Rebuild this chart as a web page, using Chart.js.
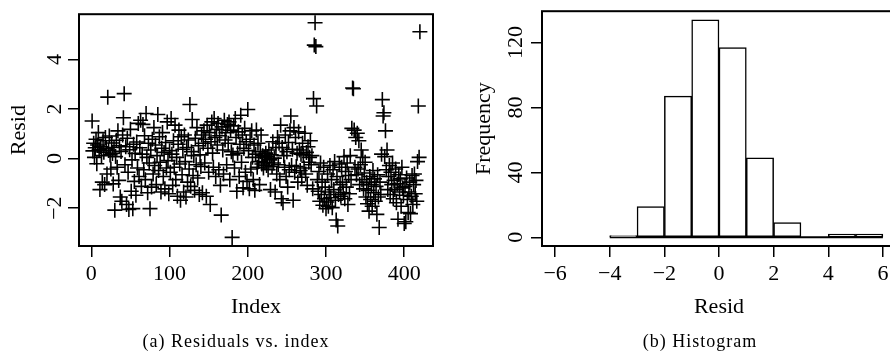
<!DOCTYPE html>
<html>
<head>
<meta charset="utf-8">
<script src="https://cdn.jsdelivr.net/npm/chart.js@4.4.1/dist/chart.umd.min.js"></script>
<style>
  html, body { margin: 0; padding: 0; background: #fff; }
  body { width: 890px; height: 360px; overflow: hidden; position: relative; }
  #residChart { position: absolute; left: 0; top: 0; }
  #histChart { position: absolute; left: 445px; top: 0; }
  .caption { position: absolute; top: 331px; font-family: 'Liberation Serif', serif; font-size: 18px;
             letter-spacing: 1px; transform: translateX(-50%); white-space: nowrap; color: #000; }
</style>
</head>
<body>
<canvas id="residChart" width="445" height="360"></canvas>
<canvas id="histChart" width="460" height="360"></canvas>
<div class="caption" style="left:236px">(a) Residuals vs. index</div>
<div class="caption" style="left:700px">(b) Histogram</div>
<script>
// residuals, index 1..420
const resid = [
  1.52, 0.31, 0.62, 0.05, 0.44, 0.78, -0.21, 0.55, 1.05, 0.36, -1.25, 0.48, 0.12, -0.95, 0.72, 0.26, -1.05, 0.85, 0.41, -0.62,
  2.48, 0.33, 0.91, 0.15, -0.42, 0.63, 0.21, -1.02, 0.45, -2.08, 0.08, 0.74, -0.35, 1.12, -0.88, 0.52, -1.55, 0.29, -1.72, 0.95,
  1.65, 2.62, -0.25, 0.48, -1.85, 0.82, -0.55, -2.05, 0.36, 1.18, -1.32, -0.05, -2.02, 0.58, -0.92, 0.21, -1.48, 0.67, -0.38, 1.42,
  -0.72, 0.44, 1.55, -1.12, 0.18, 1.38, -0.45, 0.92, -0.85, 1.82, 0.05, -1.38, 0.62, -0.18, -2.02, 0.35, -1.15, 0.78, -0.62, 1.25,
  -0.28, 0.55, -1.05, 0.12, 1.78, -0.48, 0.88, -0.15, -1.35, 0.42, 1.05, -0.72, 0.25, -1.22, 0.65, -0.38, 1.48, -0.08, -1.42, 0.32,
  -0.55, 1.62, 0.18, -1.08, 0.72, -0.35, 1.35, -0.85, 0.05, -1.52, 0.58, 1.15, -0.22, -1.68, 0.88, -0.65, 0.38, -1.35, 0.95, -0.12,
  -1.55, 0.45, -0.95, 0.75, -0.42, 2.18, -1.12, 0.28, 1.58, -0.68, 0.12, -1.28, 0.82, -0.25, 1.25, -0.78, 0.52, -1.45, 0.15, -0.32,
  0.95, -1.38, 0.62, 1.12, -0.18, 0.78, -1.52, 1.35, 0.42, -0.55, 1.05, -1.85, 0.68, 1.48, 0.22, -0.35, 1.62, 0.85, -0.72, 1.18,
  0.55, 1.42, -0.45, 0.92, -1.08, -2.28, 1.28, 0.35, -0.62, 1.55, 0.75, 1.05, -0.25, 1.38, 0.62, 1.48, -0.85, 1.15, 0.28, -3.18,
  0.15, 1.32, -0.38, 1.62, 0.85, -1.32, 0.22, 1.08, -0.72, 0.58, 1.75, -0.15, 0.95, -1.18, 0.42, 1.22, -0.55, 0.68, -0.92, 1.98,
  0.32, -1.22, 0.78, -0.42, 1.12, 0.05, -0.85, 0.55, -1.28, 0.18, 1.15, -0.35, 0.62, -0.12, -1.05, 0.28, 0.95, -0.22, 0.12, -0.38,
  0.05, -0.15, 0.22, -0.28, 0.08, -0.45, 0.35, -0.05, -1.25, 0.15, -0.32, 0.68, -0.18, 0.02, -1.35, 0.45, -0.62, 0.85, -0.25, 0.62,
  -0.85, 1.35, -1.62, 0.45, -1.78, 0.12, -0.35, 0.95, -0.72, 0.28, -1.15, 0.65, -0.45, 1.12, 1.72, -0.28, 0.38, -1.68, 1.25, -0.55,
  0.85, -0.32, 0.22, -0.95, 1.08, 0.35, -0.48, 0.18, -0.75, 0.62, 0.15, -0.38, 1.02, -0.62, 0.25, -1.08, 0.48, -0.15, 0.05, 0.72,
  -0.25, 0.12, -1.22, 2.42, 4.58, 5.48, 4.52, 2.12, -0.85, -1.32, -0.52, -1.72, -0.18, -1.45, -0.95, -1.88, -0.35, -1.62, -1.15, -2.02,
  -1.75, -0.62, -1.92, -1.35, -0.28, -1.58, -0.85, -1.98, -0.45, -1.25, -0.12, -1.68, -2.48, -0.72, -2.72, -1.45, -0.22, -1.05, -1.52, -0.35,
  -0.95, -1.38, 0.08, -1.62, -0.52, -1.15, -0.18, -1.85, -0.68, -1.42, 0.12, -0.85, 1.22, 2.85, 2.82, 1.15, -0.35, 0.85, -0.65, 1.02,
  -0.42, 0.72, -1.05, -0.25, 0.35, -0.85, 0.05, -1.22, -0.58, -0.15, -1.55, -0.95, -1.82, -1.28, -2.12, -0.72, -1.65, -1.05, -1.92, -0.48,
  -1.38, -0.82, -1.72, -1.12, -2.25, -0.65, -1.55, -2.78, -0.95, -1.45, 0.18, 2.38, 1.72, 1.85, 0.08, 1.12, -0.45, 0.35, -1.25, -0.72,
  -0.28, -1.45, -0.55, -1.05, -0.18, -1.62, -0.88, -1.25, -0.42, -1.78, -1.02, -2.45, -0.65, -1.35, -0.82, -1.92, -0.35, -1.18, -1.48, -2.62,
  -1.12, -2.55, -0.78, -1.65, -2.18, -1.35, -0.95, -2.22, -1.52, -0.68, -1.85, -1.05, -0.62, -1.42, -0.88, -1.72, -0.12, 2.12, 0.05, 5.12
];

// histogram of the residuals, panel (b)
const binEdges = [-4, -3, -2, -1, 0, 1, 2, 3, 4, 5, 6];
const binCounts = [1, 19, 87, 134, 117, 49, 9, 0, 2, 2];

const xTicksA = [0, 100, 200, 300, 400];
const yTicksA = [-2, 0, 2, 4];
const xTicksB = [-6, -4, -2, 0, 2, 4, 6];
const yTicksB = [0, 40, 80, 120];

Chart.defaults.font.family = "'Liberation Serif', serif";
Chart.defaults.color = '#000';

const serif = { family: "'Liberation Serif', serif", size: 22 };
const minus = (v) => (v < 0 ? '\u2212' + Math.abs(v) : String(v));

// R style 4% range extension
function rRange(lo, hi) {
  const pad = (hi - lo) * 0.04;
  return [lo - pad, hi + pad];
}

// box round the plot region, like R's box()
const boxPlugin = {
  id: 'rbox',
  afterDatasetsDraw(chart) {
    const a = chart.chartArea;
    const c = chart.ctx;
    c.save();
    c.strokeStyle = '#000';
    c.lineWidth = 2;
    c.strokeRect(a.left, a.top, a.right - a.left, a.bottom - a.top);
    c.restore();
  }
};

function axisGrid() {
  return { display: true, drawOnChartArea: false, drawTicks: true, tickLength: 11, color: '#000', lineWidth: 1.5 };
}

const idx = resid.map((r, i) => i + 1);
const xLimA = rRange(Math.min(...idx), Math.max(...idx));
const yLimA = rRange(Math.min(...resid), Math.max(...resid));

new Chart(document.getElementById('residChart'), {
  type: 'scatter',
  data: {
    datasets: [{
      data: resid.map((r, i) => ({ x: idx[i], y: r })),
      pointStyle: 'cross',
      pointRadius: 7.5,
      borderWidth: 1.6,
      borderColor: '#000',
      backgroundColor: '#000'
    }]
  },
  options: {
    responsive: false,
    animation: false,
    devicePixelRatio: 1,
    layout: { padding: { left: 0, top: 10, right: 12, bottom: 0 } },
    plugins: { legend: { display: false }, tooltip: { enabled: false } },
    scales: {
      x: {
        type: 'linear', min: xLimA[0], max: xLimA[1],
        afterBuildTicks: (s) => { s.ticks = xTicksA.map(v => ({ value: v })); },
        afterFit: (s) => { s.height = 114; },
        grid: axisGrid(),
        border: { display: false },
        ticks: { font: serif, padding: 4, maxRotation: 0, callback: minus },
        title: { display: true, text: 'Index', font: serif, padding: { top: 0, bottom: 40 } }
      },
      y: {
        type: 'linear', min: yLimA[0], max: yLimA[1],
        afterBuildTicks: (s) => { s.ticks = yTicksA.map(v => ({ value: v })); },
        afterFit: (s) => { s.width = 79; },
        grid: axisGrid(),
        border: { display: false },
        ticks: { font: serif, padding: 1, minRotation: 90, maxRotation: 90, crossAlign: 'center', callback: minus },
        title: { display: true, text: 'Resid', font: serif, padding: { top: 6, bottom: 0 } }
      }
    }
  },
  plugins: [boxPlugin]
});

const binMid = binCounts.map((c, i) => (binEdges[i] + binEdges[i + 1]) / 2);
const xLimB = rRange(xTicksB[0], xTicksB[xTicksB.length - 1]);
const yLimB = rRange(0, Math.max(...binCounts));

new Chart(document.getElementById('histChart'), {
  type: 'bar',
  data: {
    datasets: [{
      type: 'bar',
      data: binCounts.map((c, i) => ({ x: binMid[i], y: c })),
      backgroundColor: '#fff',
      borderColor: '#000',
      borderWidth: 1.5,
      borderSkipped: false,
      barPercentage: 1,
      categoryPercentage: 1
    }, {
      // bottoms of the bars, including the empty bin
      type: 'line',
      data: [{ x: binEdges[0], y: 0 }, { x: binEdges[binEdges.length - 1], y: 0 }],
      borderColor: '#000',
      borderWidth: 2,
      pointRadius: 0
    }]
  },
  options: {
    responsive: false,
    animation: false,
    devicePixelRatio: 1,
    layout: { padding: { left: 0, top: 10, right: 9, bottom: 0 } },
    plugins: { legend: { display: false }, tooltip: { enabled: false } },
    scales: {
      x: {
        type: 'linear', min: xLimB[0], max: xLimB[1], offset: false,
        afterBuildTicks: (s) => { s.ticks = xTicksB.map(v => ({ value: v })); },
        afterFit: (s) => { s.height = 114; },
        grid: Object.assign(axisGrid(), { offset: false }),
        border: { display: false },
        ticks: { font: serif, padding: 4, maxRotation: 0, callback: minus },
        title: { display: true, text: 'Resid', font: serif, padding: { top: 0, bottom: 40 } }
      },
      y: {
        type: 'linear', min: yLimB[0], max: yLimB[1],
        afterBuildTicks: (s) => { s.ticks = yTicksB.map(v => ({ value: v })); },
        afterFit: (s) => { s.width = 97; },
        grid: axisGrid(),
        border: { display: false },
        ticks: { font: serif, padding: -2, minRotation: 90, maxRotation: 90, crossAlign: 'center', callback: minus },
        title: { display: true, text: 'Frequency', font: serif, padding: { top: 26, bottom: 0 } }
      }
    }
  },
  plugins: [boxPlugin]
});
</script>
</body>
</html>
